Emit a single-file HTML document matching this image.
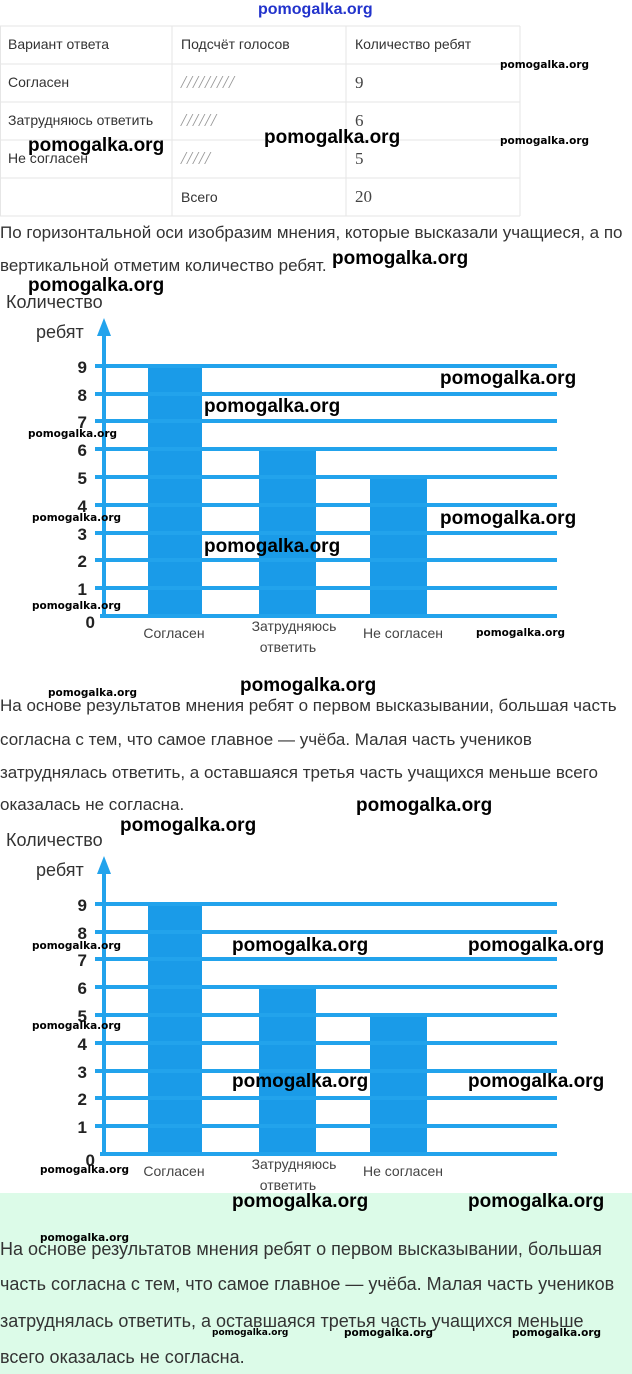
<!DOCTYPE html>
<html><head><meta charset="utf-8"><style>
body{margin:0;width:632px;height:1374px;position:relative;background:#fff;font-family:"Liberation Sans","DejaVu Sans",sans-serif;overflow:hidden}
.a{position:absolute;white-space:nowrap}
.t{font-size:14px;color:#333}
.p{font-size:17px;color:#333;left:0}
.g{font-size:18px}
.w{font-weight:bold;color:#000}
.wb{font-size:19px;font-family:"Liberation Sans",sans-serif}
.ws{font-size:10.5px;font-family:"DejaVu Sans",sans-serif}
.ser{font-family:"Liberation Serif",serif;font-size:17px;color:#444}
.sl{font-family:"Liberation Serif",serif;font-style:italic;font-size:18px;color:#999;letter-spacing:1px}
</style></head><body>
<div class="a" style="left:258px;top:1px;font-size:16px;color:#2233cc;font-weight:bold">pomogalka.org</div>
<svg class="a" style="left:0;top:0" width="632" height="220">
<g stroke="#e6e6e6" stroke-width="1">
<line x1="0" y1="26" x2="520" y2="26"/><line x1="0" y1="64" x2="520" y2="64"/><line x1="0" y1="102" x2="520" y2="102"/><line x1="0" y1="140" x2="520" y2="140"/><line x1="0" y1="178" x2="520" y2="178"/><line x1="0" y1="216" x2="520" y2="216"/>
<line x1="0.5" y1="26" x2="0.5" y2="216"/><line x1="172" y1="26" x2="172" y2="216"/><line x1="346" y1="26" x2="346" y2="216"/><line x1="520" y1="26" x2="520" y2="216"/>
</g></svg>
<div class="a t" style="left:8px;top:36px">Вариант ответа</div>
<div class="a t" style="left:181px;top:36px">Подсчёт голосов</div>
<div class="a t" style="left:355px;top:36px">Количество ребят</div>
<div class="a t" style="left:8px;top:74px">Согласен</div>
<div class="a sl" style="left:181px;top:72px">/////////</div>
<div class="a ser" style="left:355px;top:73px">9</div>
<div class="a t" style="left:8px;top:112px">Затрудняюсь ответить</div>
<div class="a sl" style="left:181px;top:110px">//////</div>
<div class="a ser" style="left:355px;top:111px">6</div>
<div class="a t" style="left:8px;top:150px">Не согласен</div>
<div class="a sl" style="left:181px;top:148px">/////</div>
<div class="a ser" style="left:355px;top:149px">5</div>
<div class="a t" style="left:181px;top:189px">Всего</div>
<div class="a ser" style="left:355px;top:187px">20</div>
<div class="a p" style="top:223px">По горизонтальной оси изобразим мнения, которые высказали учащиеся, а по</div>
<div class="a p" style="top:256px">вертикальной отметим количество ребят.</div>

<svg class="a" style="left:0;top:280px" width="632" height="380" viewBox="0 280 632 380">
<g id="ch">
<text x="6" y="308" font-size="18" fill="#333">Количество</text>
<text x="36" y="338" font-size="18" fill="#333">ребят</text>
<g fill="#1a9be8">
<rect x="148" y="364" width="54" height="252"/><rect x="259" y="448" width="57" height="168"/><rect x="370" y="475" width="57" height="141"/>
</g>
<g stroke="#22a3ec" stroke-width="4">
<line x1="95" y1="366" x2="557" y2="366"/><line x1="95" y1="394" x2="557" y2="394"/><line x1="95" y1="421" x2="557" y2="421"/><line x1="95" y1="449" x2="557" y2="449"/><line x1="95" y1="477" x2="557" y2="477"/><line x1="95" y1="505" x2="557" y2="505"/><line x1="95" y1="533" x2="557" y2="533"/><line x1="95" y1="560" x2="557" y2="560"/><line x1="95" y1="588" x2="557" y2="588"/><line x1="100" y1="616" x2="557" y2="616"/>
<line x1="104" y1="332" x2="104" y2="618"/>
</g>
<polygon points="104,318 97,336 111,336" fill="#22a3ec"/>
<g font-size="17" font-weight="bold" fill="#222" text-anchor="end">
<text x="87" y="373">9</text><text x="87" y="401">8</text><text x="87" y="428">7</text><text x="87" y="456">6</text><text x="87" y="484">5</text><text x="87" y="512">4</text><text x="87" y="540">3</text><text x="87" y="567">2</text><text x="87" y="595">1</text><text x="95" y="628">0</text>
</g>
<g font-size="14" fill="#444" text-anchor="middle">
<text x="174" y="638">Согласен</text><text x="294" y="631">Затрудняюсь</text><text x="288" y="652">ответить</text><text x="403" y="638">Не согласен</text>
</g>
</g></svg>
<svg class="a" style="left:0;top:818px" width="632" height="380" viewBox="0 280 632 380"><use href="#ch"/></svg>

<div class="a p" style="top:696px">На основе результатов мнения ребят о первом высказывании, большая часть</div>
<div class="a p" style="top:730px">согласна с тем, что самое главное — учёба. Малая часть учеников</div>
<div class="a p" style="top:763px">затруднялась ответить, а оставшаяся третья часть учащихся меньше всего</div>
<div class="a p" style="top:795px">оказалась не согласна.</div>

<div class="a" style="left:0;top:1193px;width:632px;height:181px;background:#dcfbe8"></div>
<div class="a p g" style="top:1239px">На основе результатов мнения ребят о первом высказывании, большая</div>
<div class="a p g" style="top:1274px">часть согласна с тем, что самое главное — учёба. Малая часть учеников</div>
<div class="a p g" style="top:1311px">затруднялась ответить, а оставшаяся третья часть учащихся меньше</div>
<div class="a p g" style="top:1347px">всего оказалась не согласна.</div>

<div class="a w ws" style="left:500px;top:59px">pomogalka.org</div>
<div class="a w ws" style="left:500px;top:135px">pomogalka.org</div>
<div class="a w wb" style="left:28px;top:135px">pomogalka.org</div>
<div class="a w wb" style="left:264px;top:127px">pomogalka.org</div>
<div class="a w wb" style="left:332px;top:248px">pomogalka.org</div>
<div class="a w wb" style="left:28px;top:275px">pomogalka.org</div>
<div class="a w wb" style="left:440px;top:368px">pomogalka.org</div>
<div class="a w wb" style="left:204px;top:396px">pomogalka.org</div>
<div class="a w ws" style="left:28px;top:428px">pomogalka.org</div>
<div class="a w ws" style="left:32px;top:512px">pomogalka.org</div>
<div class="a w wb" style="left:440px;top:508px">pomogalka.org</div>
<div class="a w wb" style="left:204px;top:536px">pomogalka.org</div>
<div class="a w ws" style="left:32px;top:600px">pomogalka.org</div>
<div class="a w ws" style="left:476px;top:627px">pomogalka.org</div>
<div class="a w ws" style="left:48px;top:687px">pomogalka.org</div>
<div class="a w wb" style="left:240px;top:675px">pomogalka.org</div>
<div class="a w wb" style="left:356px;top:795px">pomogalka.org</div>
<div class="a w wb" style="left:120px;top:815px">pomogalka.org</div>
<div class="a w ws" style="left:32px;top:940px">pomogalka.org</div>
<div class="a w wb" style="left:232px;top:935px">pomogalka.org</div>
<div class="a w wb" style="left:468px;top:935px">pomogalka.org</div>
<div class="a w ws" style="left:32px;top:1020px">pomogalka.org</div>
<div class="a w wb" style="left:232px;top:1071px">pomogalka.org</div>
<div class="a w wb" style="left:468px;top:1071px">pomogalka.org</div>
<div class="a w ws" style="left:40px;top:1164px">pomogalka.org</div>
<div class="a w wb" style="left:232px;top:1191px">pomogalka.org</div>
<div class="a w wb" style="left:468px;top:1191px">pomogalka.org</div>
<div class="a w ws" style="left:40px;top:1232px">pomogalka.org</div>
<div class="a w ws" style="left:212px;top:1328px;font-size:9px">pomogalka.org</div>
<div class="a w ws" style="left:344px;top:1327px">pomogalka.org</div>
<div class="a w ws" style="left:512px;top:1327px">pomogalka.org</div>
</body></html>
